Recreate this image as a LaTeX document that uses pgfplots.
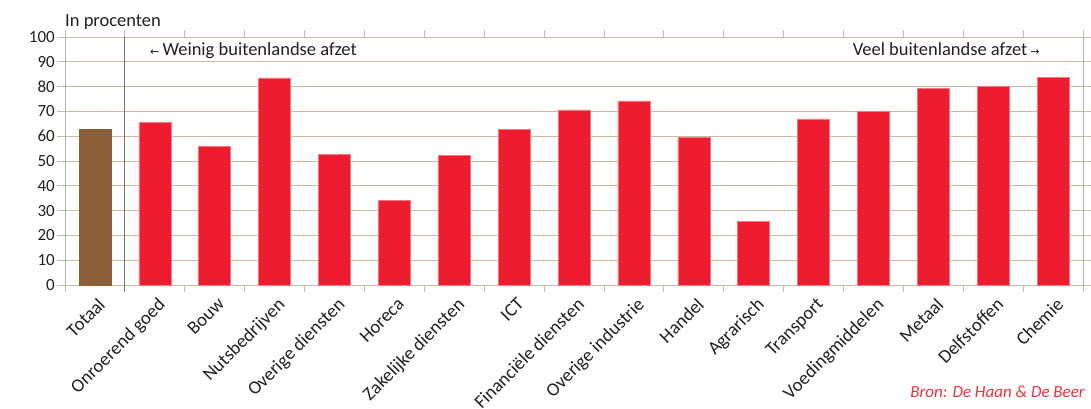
\documentclass[border=0pt]{standalone}
\usepackage{pgfplots}
\pgfplotsset{compat=1.18}
\usepackage{fontspec}
\setmainfont{Carlito}
\newfontfamily\labelfont{Carlito}
\newfontfamily\arrowfont{DejaVu Sans}
\definecolor{barred}{HTML}{ED1C2E}
\definecolor{barbrown}{HTML}{8B5E3C}
\definecolor{gridtan}{HTML}{C9BBA0}
\definecolor{axisblue}{HTML}{A3B8B4}
\definecolor{sepline}{HTML}{7D705F}
\definecolor{txt}{HTML}{231F20}
\definecolor{bronred}{HTML}{E8343F}
\begin{document}
\begin{tikzpicture}[x=1pt,y=1pt]
\useasboundingbox (-65,-124) rectangle (1026,285);
\begin{axis}[at={(0,0)}, anchor=south west, scale only axis,
  width=1018pt, height=248pt,
  xmin=-0.5, xmax=16.5, ymin=0, ymax=100,
  clip=false,
  ytick={0,10,...,100},
  ymajorgrids, grid style={gridtan, line width=0.8pt},
  xtick={0,...,16},
  xticklabels={Totaal, Onroerend goed, Bouw, Nutsbedrijven, Overige diensten, Horeca, Zakelijke diensten, ICT, Financiële diensten, Overige industrie, Handel, Agrarisch, Transport, Voedingmiddelen, Metaal, Delfstoffen, Chemie},
  major x tick style={draw=none},
  minor xtick={-0.5,0.5,...,16.5},
  minor x tick style={gridtan, line width=0.8pt},
  minor tick length=7pt,
  major tick length=8pt,
  tick align=outside,
  ytick style={gridtan, line width=0.8pt},
  axis line style={gridtan, line width=0.8pt},
  /pgf/number format/assume math mode=true,
  yticklabel style={font=\fontsize{17}{20}\selectfont, text=txt, inner sep=2pt},
  xticklabel style={font=\labelfont\fontsize{18.7}{20}\selectfont, text=txt, rotate=45, anchor=north east, inner sep=1pt, yshift=-3pt},
  ybar, bar width=32pt,
]
\addplot[bar shift=0pt, fill=barbrown, draw=barbrown, line width=0.3pt] coordinates {(0,63)};
\addplot[bar shift=0pt, fill=barred, draw=barred!60!white, line width=0.5pt] coordinates {
(1,65.6) (2,56) (3,83.5) (4,52.8) (5,34) (6,52.2) (7,62.9) (8,70.6) (9,74.2) (10,59.5) (11,25.8) (12,67) (13,70) (14,79.4) (15,80) (16,83.6)};
\draw[axisblue, line width=1pt] (rel axis cs:0,0) -- (rel axis cs:0,1);
\draw[axisblue, line width=1pt] (rel axis cs:1,0) -- (rel axis cs:1,1);
\draw[sepline, line width=1pt] (axis cs:0.5,100) -- ([yshift=-7pt]axis cs:0.5,0);
\node[anchor=base west, text=txt, font=\fontsize{18.5}{20}\selectfont, inner sep=0pt] at (axis cs:0.92,92.7) {{\arrowfont\fontsize{11}{12}\selectfont ←}\,Weinig buitenlandse afzet};
\node[anchor=base east, text=txt, font=\fontsize{18.5}{20}\selectfont, inner sep=0pt] at (axis cs:15.78,92.7) {Veel buitenlandse afzet\,{\arrowfont\fontsize{11}{12}\selectfont →}};
\node[anchor=base west, text=txt, font=\fontsize{18.5}{20}\selectfont, inner sep=0pt] at ([yshift=10pt]axis cs:-0.5,100) {In procenten};
\end{axis}
\node[anchor=base east, text=bronred, font=\itshape\fontsize{17}{18}\selectfont, inner sep=0pt] at (1020,-112) {Bron: De Haan \& De Beer};
\end{tikzpicture}
\end{document}
